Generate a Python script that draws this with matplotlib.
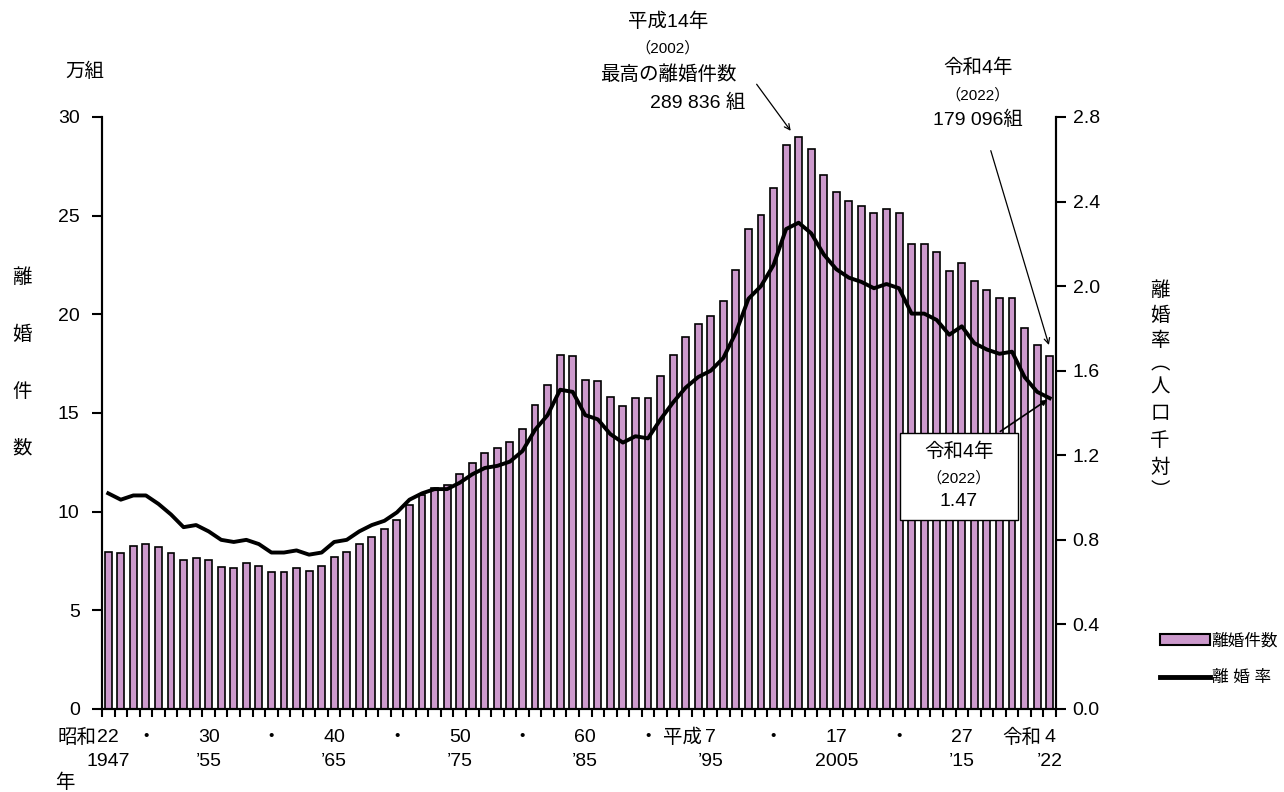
import matplotlib
matplotlib.use('Agg')
import matplotlib.pyplot as plt
import numpy as np
from matplotlib.patches import Patch
from matplotlib.lines import Line2D

plt.rcParams['font.family'] = ['Liberation Sans', 'Noto Sans CJK JP', 'DejaVu Sans']

years = list(range(1947, 2023))

# 離婚件数 (組)
divorces = [79551, 79032, 82575, 83689, 82331, 79021, 75255, 76759, 75267, 72040,
            71651, 74004, 72455, 69410, 69323, 71394, 69996, 72306, 77195, 79432,
            83478, 87327, 91280, 95937, 103595, 108382, 111877, 113622, 119135, 124512,
            129485, 132146, 135250, 141689, 154221, 163980, 179150, 178746, 166640, 166054,
            158227, 153600, 157811, 157608, 168969, 179191, 188297, 195106, 199016, 206955,
            222635, 243183, 250529, 264246, 285911, 289836, 283854, 270804, 261917, 257475,
            254832, 251136, 253353, 251378, 235719, 235406, 231383, 222107, 226238, 216856,
            212296, 208333, 208496, 193253, 184384, 179096]

# 離婚率 (人口千対)
rates = [1.02, 0.99, 1.01, 1.01, 0.97, 0.92, 0.86, 0.87, 0.84, 0.80,
         0.79, 0.80, 0.78, 0.74, 0.74, 0.75, 0.73, 0.74, 0.79, 0.80,
         0.84, 0.87, 0.89, 0.93, 0.99, 1.02, 1.04, 1.04, 1.07, 1.11,
         1.14, 1.15, 1.17, 1.22, 1.32, 1.39, 1.51, 1.50, 1.39, 1.37,
         1.30, 1.26, 1.29, 1.28, 1.37, 1.45, 1.52, 1.57, 1.60, 1.66,
         1.78, 1.94, 2.00, 2.10, 2.27, 2.30, 2.25, 2.15, 2.08, 2.04,
         2.02, 1.99, 2.01, 1.99, 1.87, 1.87, 1.84, 1.77, 1.81, 1.73,
         1.70, 1.68, 1.69, 1.57, 1.50, 1.47]

# x axis labels: (year, upper row, lower row)
xlabels = [(1947, '22', '1947'), (1950, '・', ''), (1955, '30', '’55'), (1960, '・', ''),
           (1965, '40', '’65'), (1970, '・', ''), (1975, '50', '’75'), (1980, '・', ''),
           (1985, '60', '’85'), (1990, '・', ''), (1995, '7', '’95'), (2000, '・', ''),
           (2005, '17', '2005'), (2010, '・', ''), (2015, '27', '’15'), (2022, '4', '’22')]

purple = '#CC99CC'
fs = 14
x = np.arange(len(years))
counts = np.array(divorces) / 10000

fig = plt.figure(figsize=(12.84, 7.92), dpi=100)
ax = fig.add_axes([0.0794, 0.1048, 0.7430, 0.7475])
ax2 = ax.twinx()

ax.bar(x, counts, width=0.55, color=purple, edgecolor='black', linewidth=1.2)
ax2.plot(x, rates, color='black', linewidth=2.8, solid_joinstyle='round')

ax.set_xlim(-0.5, len(years) - 0.5)
ax.set_ylim(0, 30)
ax2.set_ylim(0, 2.8)
ax.set_yticks(range(0, 31, 5))
ax2.set_yticks(np.arange(0, 2.81, 0.4))
ax2.set_yticklabels([f'{v:.1f}' for v in np.arange(0, 2.81, 0.4)])

for a in (ax, ax2):
    a.spines['top'].set_visible(False)
    for s in a.spines.values():
        s.set_linewidth(1.5)
ax.tick_params(axis='y', direction='out', length=7, width=1.5, labelsize=fs, pad=9)
ax2.tick_params(axis='y', direction='out', length=7, width=1.5, labelsize=fs, pad=5)

# year boundary ticks
ax.set_xticks(np.arange(-0.5, len(years), 1.0))
ax.set_xticklabels([])
ax.tick_params(axis='x', direction='out', length=6, width=1.5)

trans = ax.get_xaxis_transform()
for yr, top, bottom in xlabels:
    i = yr - 1947
    ax.text(i, -0.033, top, transform=trans, ha='center', va='top', fontsize=fs)
    if bottom:
        ax.text(i, -0.075, bottom, transform=trans, ha='center', va='top', fontsize=fs)
ax.text(0 - 0.9, -0.033, '昭和', transform=trans, ha='right', va='top', fontsize=fs)
ax.text(1995 - 1947 - 0.7, -0.033, '平成', transform=trans, ha='right', va='top', fontsize=fs)
ax.text(2022 - 1947 - 0.7, -0.033, '令和', transform=trans, ha='right', va='top', fontsize=fs)
fig.text(65 / 1284, 1 - 783 / 792, '年', ha='center', va='center', fontsize=fs)

fig.text(85 / 1284, 1 - 72 / 792, '万組', ha='center', va='center', fontsize=fs)
for k, ch in enumerate('離婚件数'):
    fig.text(22 / 1284, 1 - (278 + 57 * k) / 792, ch, ha='center', va='center', fontsize=fs)
right_chars = ['離', '婚', '率', '︵', '人', '口', '千', '対', '︶']
right_y = [290, 315, 340, 364, 387, 413, 440, 467, 490]
for ch, yy in zip(right_chars, right_y):
    fig.text(1160 / 1284, 1 - yy / 792, ch, ha='center', va='center', fontsize=fs,
             family=['Noto Sans CJK JP'])

# annotations
i02 = 2002 - 1947
fig.text(668 / 1284, 1 - 22 / 792, '平成14年', ha='center', va='center', fontsize=fs)
fig.text(668 / 1284, 1 - 48 / 792, '（2002）', ha='center', va='center', fontsize=11)
fig.text(668 / 1284, 1 - 75 / 792, '最高の離婚件数', ha='center', va='center', fontsize=fs)
fig.text(745 / 1284, 1 - 103 / 792, '289 836 組', ha='right', va='center', fontsize=fs)
ax.annotate('', xy=(i02 - 0.5, counts[i02] + 0.2), xycoords='data',
            xytext=(755 / 1284, 1 - 82 / 792), textcoords='figure fraction',
            arrowprops=dict(arrowstyle='->', color='black', lw=0.9))

i22 = 2022 - 1947
fig.text(978 / 1284, 1 - 68 / 792, '令和4年', ha='center', va='center', fontsize=fs)
fig.text(978 / 1284, 1 - 95 / 792, '（2022）', ha='center', va='center', fontsize=11)
fig.text(978 / 1284, 1 - 120 / 792, '179 096組', ha='center', va='center', fontsize=fs)
ax.annotate('', xy=(i22, counts[i22] + 0.4), xycoords='data',
            xytext=(990 / 1284, 1 - 148 / 792), textcoords='figure fraction',
            arrowprops=dict(arrowstyle='->', color='black', lw=0.9))

ax2.annotate('', xy=(i22, rates[i22]), xycoords='data',
             xytext=(998 / 1284, 1 - 433 / 792), textcoords='figure fraction',
             arrowprops=dict(arrowstyle='-|>', color='black', lw=1.2, mutation_scale=8))
box = plt.Rectangle((900 / 1284, 1 - 520 / 792), 118 / 1284, 87 / 792, transform=fig.transFigure,
                    facecolor='white', edgecolor='black', linewidth=1.0, zorder=5)
fig.patches.append(box)
fig.text(959 / 1284, 1 - 452 / 792, '令和4年', ha='center', va='center', fontsize=fs, zorder=6)
fig.text(959 / 1284, 1 - 478 / 792, '（2022）', ha='center', va='center', fontsize=11, zorder=6)
fig.text(959 / 1284, 1 - 502 / 792, '1.47', ha='center', va='center', fontsize=fs, zorder=6)

# legend
handles = [Patch(facecolor=purple, edgecolor='black', linewidth=1.5),
           Line2D([], [], color='black', linewidth=3.5)]
fig.legend(handles, ['離婚件数', '離 婚 率'], loc='center left',
           bbox_to_anchor=(1145 / 1284, 1 - 659 / 792), frameon=False, fontsize=12,
           handlelength=3.0, handleheight=0.6, handletextpad=0.1, labelspacing=1.3)

fig.savefig('out.png', dpi=100)
